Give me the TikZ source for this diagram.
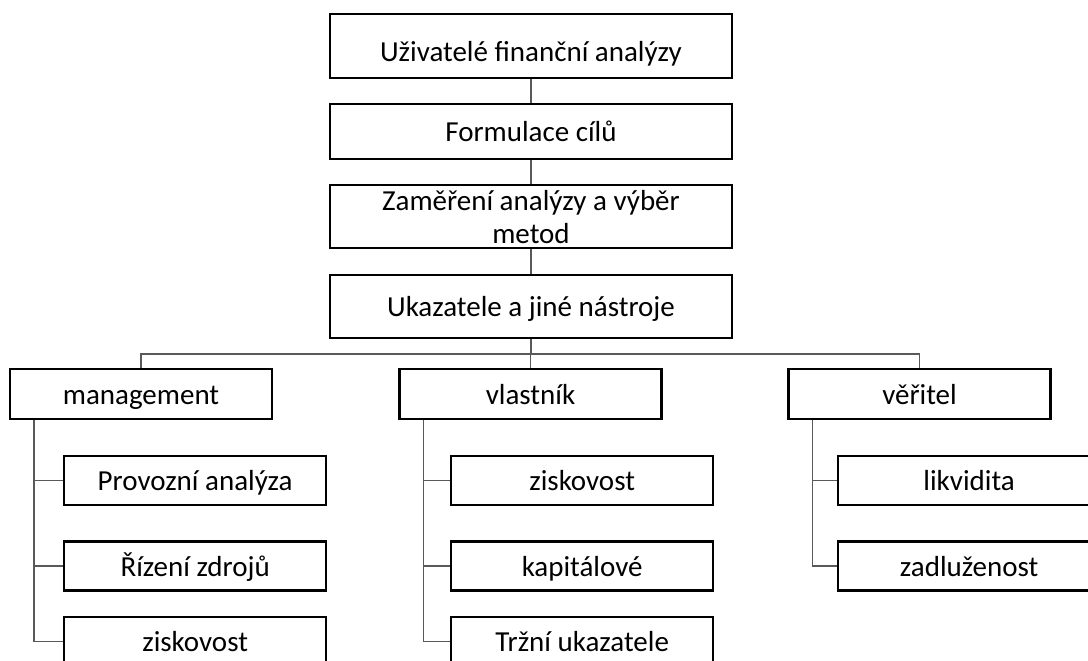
\documentclass[tikz,border=0pt]{standalone}
\usepackage{fontspec}
\setmainfont{Carlito}
\tikzset{
	box/.style={draw, line width=2.3pt, inner sep=0pt, align=center,
		text height=20pt, text depth=0pt,
		font=\fontsize{29}{33}\selectfont},
	link/.style={draw=black!65, line width=1.3pt},
}
\begin{document}
\begin{tikzpicture}[x=1pt,y=-1pt]
	\def\W{262pt} % width of the lower boxes
	\def\H{49pt}
	\useasboundingbox (0,0) rectangle (1088,661);
	\clip (0,0) rectangle (1088,661);
	
	% main column
	\node[box, minimum width=402pt, minimum height=64pt, text height=32pt] (users) at (531,46) {Uživatelé finanční analýzy};
	\node[box, minimum width=402pt, minimum height=55pt] (goals) at (531,131.5) {Formulace cílů};
	\node[box, minimum width=402pt, minimum height=63pt, text height=53pt] (focus) at (531,216.5) {Zaměření analýzy a výběr\\metod};
	\node[box, minimum width=402pt, minimum height=63pt] (tools) at (531,306.5) {Ukazatele a jiné nástroje};
	\draw[link] (users) -- (goals);
	\draw[link] (goals) -- (focus);
	\draw[link] (focus) -- (tools);
	
	\coordinate (bus) at (531,354);
	\draw[link] (tools) -- (bus);
	\foreach \n/\x/\t in {man/141/management, own/530.5/vlastník, cred/919.5/věřitel} {
		\node[box, minimum width=\W, minimum height=50pt] (\n) at (\x,394) {\t};
		\draw[link] (bus) -| (\n.north);
	}
	
	% indicators of each user
	\foreach \p/\i/\x/\y/\t in {man/1/63/480.5/Provozní analýza, man/2/63/566/Řízení zdrojů, man/3/63/641.5/ziskovost,
		own/1/450/480.5/ziskovost, own/2/450/566/kapitálové, own/3/450/641.5/Tržní ukazatele,
		cred/1/837/480.5/likvidita, cred/2/837/566/zadluženost} {
		\node[box, anchor=west, minimum width=\W, minimum height=\H] (\p\i) at (\x,\y) {\t};
		\draw[link] ([xshift=25pt]\p.south west) |- (\p\i.west);
	}
\end{tikzpicture}
\end{document}
